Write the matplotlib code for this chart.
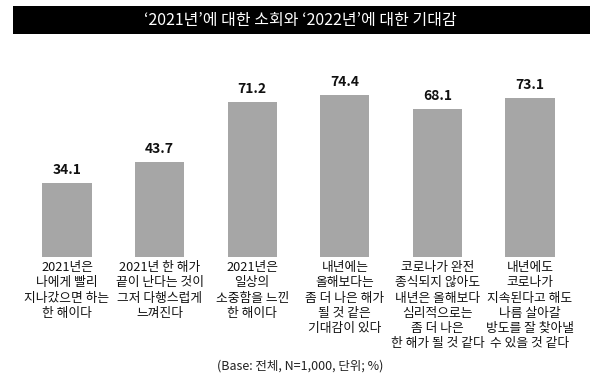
import matplotlib
matplotlib.use("Agg")
import matplotlib.pyplot as plt
from matplotlib.patches import Rectangle

plt.rcParams['font.family'] = ['Noto Sans CJK KR', 'DejaVu Sans']

categories = [
    "2021년은\n나에게 빨리\n지나갔으면 하는\n한 해이다",
    "2021년 한 해가\n끝이 난다는 것이\n그저 다행스럽게\n느껴진다",
    "2021년은\n일상의\n소중함을 느낀\n한 해이다",
    "내년에는\n올해보다는\n좀 더 나은 해가\n될 것 같은\n기대감이 있다",
    "코로나가 완전\n종식되지 않아도\n내년은 올해보다\n심리적으로는\n좀 더 나은\n한 해가 될 것 같다",
    "내년에도\n코로나가\n지속된다고 해도\n나름 살아갈\n방도를 잘 찾아낼\n수 있을 것 같다",
]
values = [34.1, 43.7, 71.2, 74.4, 68.1, 73.1]
title = "‘2021년’에 대한 소회와 ‘2022년’에 대한 기대감"
footnote = "(Base: 전체, N=1,000, 단위; %)"

W, H = 600, 384
fig = plt.figure(figsize=(W / 100, H / 100), dpi=100)
fig.patch.set_facecolor("white")

ax_left, ax_bottom_px, ax_w, ax_h = 20.7, 257, 555.6, 218
ax = fig.add_axes([ax_left / W, (H - ax_bottom_px) / H, ax_w / W, ax_h / H])
x = list(range(len(values)))
ax.bar(x, values, width=0.53, color="#a6a6a6")
ax.set_xlim(-0.5, len(values) - 0.5)
ax.set_ylim(0, 100)
ax.axis("off")

for xi, v in zip(x, values):
    ax.annotate(f"{v:.1f}", (xi, v), xytext=(0, 4), textcoords="offset points",
                ha="center", va="bottom", fontsize=10, fontweight="bold", color="#111111")

for xi, lab in zip(x, categories):
    ax.annotate(lab, (xi, 0), xytext=(0, -3), textcoords="offset points",
                ha="center", va="top", fontsize=9.2, color="#111111", linespacing=1.22)

fig.patches.append(Rectangle((13 / W, 1 - 34 / H), (590 - 13) / W, 28 / H,
                             transform=fig.transFigure, facecolor="black",
                             edgecolor="none", zorder=0))
fig.text(0.5, 1 - 20 / H, title, ha="center", va="center", color="white", fontsize=11.5)

fig.text(0.5, 1 - 366 / H, footnote, ha="center", va="center", fontsize=9, color="#222222")

fig.savefig("out.png", dpi=100)
